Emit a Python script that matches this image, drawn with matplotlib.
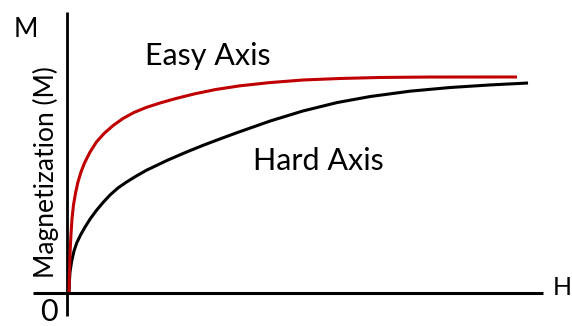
import matplotlib.pyplot as plt

# applied field H (arb. units) and magnetization M (normalized to saturation)
easy_h = [0.0, 0.011, 0.026, 0.044, 0.065, 0.098, 0.142, 0.196, 0.261, 0.338, 0.458,
          0.599, 0.763, 0.959, 1.176, 1.416, 1.678, 1.983, 2.331, 2.745, 3.203, 3.725,
          4.379, 5.098, 5.904, 6.776, 7.865, 9.76]
easy_m = [0.0, 0.093, 0.195, 0.27, 0.34, 0.405, 0.46, 0.512, 0.558, 0.6, 0.651,
          0.698, 0.737, 0.774, 0.807, 0.835, 0.858, 0.879, 0.9, 0.922, 0.942, 0.959,
          0.974, 0.986, 0.993, 0.9977, 0.9998, 1.0]

hard_h = [0.0, 0.0065, 0.022, 0.059, 0.109, 0.168, 0.251, 0.349, 0.468, 0.603, 0.741,
          0.893, 1.068, 1.257, 1.471, 1.693, 2.157, 2.571, 2.919, 3.29, 3.66, 4.379,
          5.098, 5.839, 6.558, 7.429, 8.301, 9.172, 10.0]
hard_m = [0.0, 0.042, 0.093, 0.144, 0.191, 0.228, 0.265, 0.302, 0.342, 0.381, 0.416,
          0.451, 0.484, 0.512, 0.54, 0.567, 0.614, 0.652, 0.682, 0.712, 0.741, 0.795,
          0.842, 0.881, 0.909, 0.934, 0.951, 0.963, 0.972]

plt.rcParams['font.family'] = ['Lato', 'DejaVu Sans']

fig = plt.figure(figsize=(5.72, 3.26), dpi=100)
ax = fig.add_axes([0, 0, 1, 1])
ax.set_xlim(-1.503, 10.958)
ax.set_ylim(-0.158, 1.358)
ax.axis('off')

# axis lines, running a little past the origin
ax.axhline(-0.004, xmin=33 / 572, xmax=543 / 572, color='black', lw=2.2,
           solid_capstyle='butt')
ax.axvline(-0.04, ymin=10 / 326, ymax=314 / 326, color='black', lw=2.0,
           solid_capstyle='butt')

ax.plot(hard_h, hard_m, color='black', lw=2.2, solid_capstyle='butt', zorder=3)
ax.plot(easy_h, easy_m, color='#c00000', lw=2.2, solid_capstyle='butt', zorder=4)

ax.text(1.65, 1.055, "Easy Axis", fontsize=22, ha='left', va='baseline')
ax.text(4.0, 0.567, "Hard Axis", fontsize=22, ha='left', va='baseline')
ax.text(-0.94, 1.222, "M", fontsize=19, ha='center', va='center')
ax.text(10.75, 0.02, "H", fontsize=18, ha='center', va='center')
ax.text(-0.442, -0.094, "0", fontsize=22, ha='center', va='center')
ax.text(-0.50, 0.558, "Magnetization (M)", fontsize=19, rotation=90,
        ha='center', va='center')

fig.savefig("out.png", dpi=100)
